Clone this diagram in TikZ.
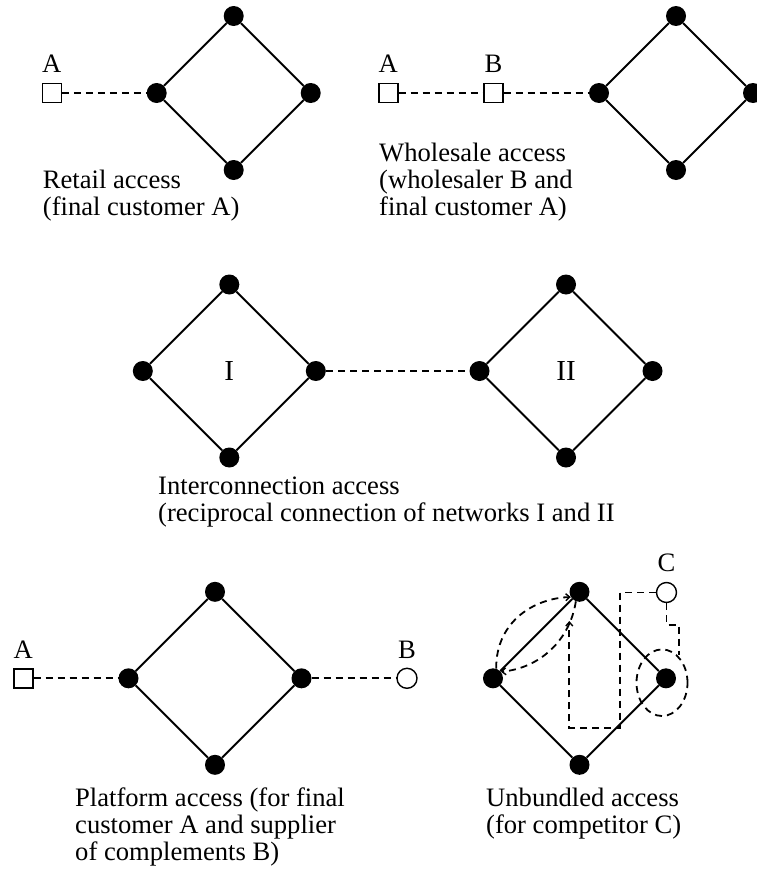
\documentclass[tikz,border=0pt]{standalone}
\usepackage{fontspec}
\setmainfont{Liberation Serif}
\usetikzlibrary{arrows.meta}
\tikzset{
  dot/.style={circle,fill=black,minimum size=20pt,inner sep=0pt},
  sqr/.style={draw,line width=1.4pt,fill=white,minimum size=19pt,inner sep=0pt},
  ring/.style={circle,draw,line width=1.4pt,fill=white,minimum size=20pt,inner sep=0pt},
  netedge/.style={line width=1.9pt},
  dsh/.style={line width=1.8pt,dash pattern=on 7pt off 5pt},
  lbl/.style={font=\fontsize{26.6}{27}\selectfont,inner sep=0pt},
  roman/.style={font=\fontsize{29}{29}\selectfont,inner sep=0pt},
  txt/.style={lbl,align=left,anchor=base west},
  tip/.style={-{Straight Barb[length=4pt,width=7pt,line width=1.4pt]}},
}
\newcommand\netw[4]{%
  \node[dot] (#1t) at (#2,#3-#4) {};
  \node[dot] (#1l) at (#2-#4,#3) {};
  \node[dot] (#1r) at (#2+#4,#3) {};
  \node[dot] (#1b) at (#2,#3+#4) {};
  \draw[netedge] (#1t) -- (#1r) -- (#1b) -- (#1l) -- (#1t);
}
\begin{document}
\begin{tikzpicture}[x=1pt,y=-1pt]
\useasboundingbox (0,0) rectangle (756,878);

% ---------- Retail access ----------
\netw{ra}{233.7}{93}{77}
\node[sqr] (raA) at (51.7,93) {};
\node[lbl,anchor=base] (raAl) at (51.7,72) {A};
\draw[dsh] (raA) -- (ral);
% anchor base = baseline of last line
\node[txt] (ratx) at (42.7,215) {Retail access\\(final customer A)};

% ---------- Wholesale access ----------
\netw{wa}{676}{93}{77}
\node[sqr] (waA) at (388.3,93) {};
\node[sqr] (waB) at (493.5,93) {};
\node[lbl,anchor=base] (waAl) at (388.3,72) {A};
\node[lbl,anchor=base] (waBl) at (493.5,72) {B};
\draw[dsh] (waA) -- (waB);
\draw[dsh] (waB) -- (wal);
\node[txt] (watx) at (379,215) {Wholesale access\\(wholesaler B and\\final customer A)};

% ---------- Interconnection access ----------
\netw{ia}{229.3}{371}{86.5}
\netw{ib}{566}{371}{86.5}
\node[roman] (iaI) at (229.3,371) {I};
\node[roman] (ibI) at (566,371) {II};
\draw[dsh] (iar) -- (ibl);
\node[txt] (iatx) at (158,521) {Interconnection access\\(reciprocal connection of networks I and II};

% ---------- Platform access ----------
\netw{pa}{215}{678.3}{86.5}
\node[sqr] (paA) at (23.3,678.3) {};
\node[ring] (paB) at (407,678.3) {};
\node[lbl,anchor=base] (paAl) at (23.3,658) {A};
\node[lbl,anchor=base] (paBl) at (407,658) {B};
\draw[dsh] (paA) -- (pal);
\draw[dsh] (par) -- (paB);
\node[txt] (patx) at (75,860) {Platform access (for final\\customer A and supplier\\of complements B)};

% ---------- Unbundled access ----------
\netw{ua}{579.5}{678.3}{86.5}
\node[ring] (uaC) at (666.5,592.5) {};
\node[lbl,anchor=base] (uaCl) at (666.5,571.5) {C};
\coordinate (k1) at (620,727.7);
\coordinate (k2) at (569.3,727.7);
\coordinate (k3) at (569.3,621);
\draw[dsh,tip] (uaC.west) -| (k1) -- (k2) -- (k3);
\coordinate (k4) at (666.5,625);
\coordinate (k5) at (679,625);
\coordinate (k6) at (679,655);
\draw[dsh] (uaC.south) -- (k4) -- (k5) -- (k6);
\coordinate (ue) at (662,682.7);
\draw[dsh] (ue) ellipse [x radius=25.5pt, y radius=33.3pt];
\draw[dsh,tip] (ual.72) .. controls (496,620) and (536,598) .. (uat.211);
\draw[dsh,tip] (uat.249) .. controls (570,640) and (540,668) .. (ual.40);
\node[txt] (uatx) at (486,833) {Unbundled access\\(for competitor C)};
\end{tikzpicture}
\end{document}
